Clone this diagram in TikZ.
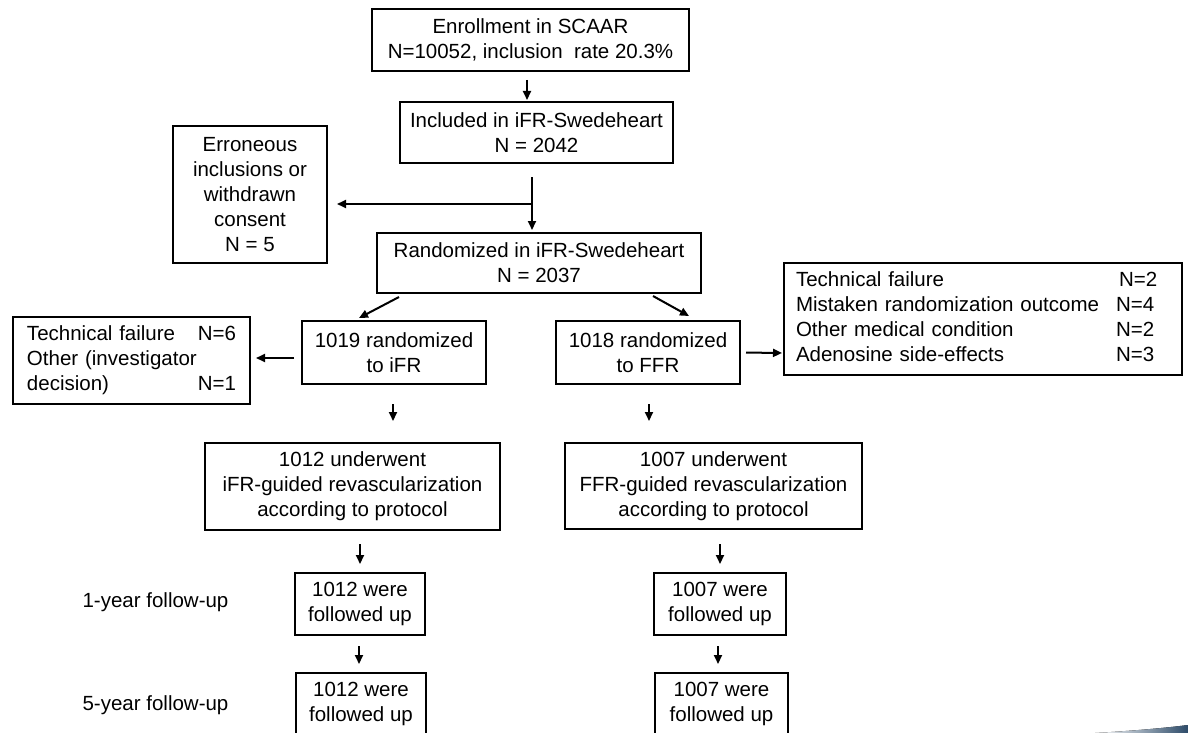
\documentclass[tikz,border=0pt]{standalone}
\usepackage{fontspec}
\setmainfont{Liberation Sans}
\usetikzlibrary{arrows.meta}
\definecolor{swoosh}{RGB}{45,75,105}
\tikzset{
  stage/.style={draw, line width=2pt, inner sep=0pt, align=center, font=\fontsize{20.5}{25}\selectfont},
  exclusion/.style={draw, line width=2pt, inner sep=0pt, align=left, font=\fontsize{20.5}{25}\selectfont},
  period/.style={inner sep=0pt, font=\fontsize{20.5}{25}\selectfont},
  flowarrow/.style={line width=2pt, -{Triangle[length=9pt,width=8pt]}},
  flowline/.style={line width=2pt}
}

\begin{document}
\begin{tikzpicture}[x=1pt,y=-1pt]
  \useasboundingbox (0,0) rectangle (1188,733);
  \fill[white] (0,0) rectangle (1188,733);
  \clip (0,0) rectangle (1188,733);

  \node[stage, minimum width=317pt, minimum height=62pt] (enroll) at (530.5,40) {Enrollment in SCAAR\\N=10052, inclusion\ \ rate 20.3\%};
  \node[stage, minimum width=273pt, minimum height=61pt] (incl) at (536.5,132.5) {Included in iFR-Swedeheart\\N = 2042};
  \node[stage, minimum width=154pt, minimum height=137pt] (excl) at (250,194.5) {Erroneous\\inclusions or\\withdrawn\\consent\\N = 5};
  \node[stage, minimum width=324pt, minimum height=60pt] (rand) at (539,263) {Randomized in iFR-Swedeheart\\N = 2037};

  \node[stage, minimum width=184pt, minimum height=63pt] (ifr) at (394,352.5) {1019 randomized\\to iFR};
  \node[stage, minimum width=184pt, minimum height=63pt] (ffr) at (648,352.5) {1018 randomized\\to FFR};
  \node[exclusion, minimum width=237pt, minimum height=87pt, text width=209pt] (lostifr) at (131.5,360.5) {Technical failure\hfill N=6\\Other (investigator\\decision)\hfill N=1};
  \node[exclusion, minimum width=398pt, minimum height=112pt, text width=374pt] (lostffr) at (983,319) {\begin{tabular}{@{}l@{\hspace{17pt}}l@{}}Technical failure & \hspace{3pt}N=2\\Mistaken randomization outcome & N=4\\Other medical condition & N=2\\Adenosine side-effects & N=3\end{tabular}};

  \node[stage, minimum width=295pt, minimum height=87pt] (pifr) at (352.5,486.5) {1012 underwent\\iFR-guided revascularization\\according to protocol};
  \node[stage, minimum width=297pt, minimum height=86pt] (pffr) at (713.5,486) {1007 underwent\\FFR-guided revascularization\\according to protocol};

  \node[period] (year1) at (155.5,602) {1-year follow-up};
  \node[stage, minimum width=130pt, minimum height=62pt] (fu1i) at (360,604) {1012 were\\followed up};
  \node[stage, minimum width=132pt, minimum height=62pt] (fu1f) at (720,604) {1007 were\\followed up};
  \node[period] (year5) at (155.5,705) {5-year follow-up};
  \node[stage, minimum width=130pt, minimum height=62pt] (fu5i) at (361,704) {1012 were\\followed up};
  \node[stage, minimum width=133pt, minimum height=62pt] (fu5f) at (721.5,704) {1007 were\\followed up};

  \draw[flowarrow, shorten <=8pt, shorten >=1pt] ([xshift=-3.5pt]enroll.south) -- ([xshift=-9.5pt]incl.north);
  \coordinate (split) at (532,204);
  \draw[flowline, shorten <=13pt] ([xshift=-4.5pt]incl.south) -- (split);
  \draw[flowarrow, shorten >=2pt] (split) -- ([xshift=-7pt]rand.north);
  \draw[flowarrow, shorten >=9pt] (split) -- (split -| excl.east);
  \draw[flowarrow] ([xshift=23pt,yshift=-3pt]rand.south west) -- ([xshift=58pt,yshift=2pt]ifr.north west);
  \draw[flowarrow] ([xshift=-49pt,yshift=-2pt]rand.south east) -- ([xshift=-52pt,yshift=4pt]ffr.north east);
  \draw[flowarrow, shorten <=7pt, shorten >=5pt] ([yshift=-5.5pt]ifr.west) -- ([yshift=2.5pt]lostifr.east);
  \draw[flowarrow, shorten <=5pt, shorten >=1pt] (ffr.east) -- ([yshift=-34pt]lostffr.west);
  \draw[flowarrow, shorten <=19pt, shorten >=21pt] ([xshift=-1pt]ifr.south) -- ([xshift=40.5pt]pifr.north);
  \draw[flowarrow, shorten <=19pt, shorten >=21pt] ([xshift=1pt]ffr.south) -- ([xshift=-64.5pt]pffr.north);
  \draw[flowarrow, shorten <=13pt, shorten >=8pt] ([xshift=7.5pt]pifr.south) -- (fu1i.north);
  \draw[flowarrow, shorten <=14pt, shorten >=8pt] ([xshift=6.5pt]pffr.south) -- (fu1f.north);
  \draw[flowarrow, shorten <=10pt, shorten >=8pt] ([xshift=-1pt]fu1i.south) -- ([xshift=-2pt]fu5i.north);
  \draw[flowarrow, shorten <=10pt, shorten >=8pt] ([xshift=-2pt]fu1f.south) -- ([xshift=-3.5pt]fu5f.north);

  \fill[left color=white, right color=swoosh] (1095,733) .. controls (1130,731) and (1165,728) .. (1188,725) -- (1188,733) -- cycle;
\end{tikzpicture}
\end{document}
